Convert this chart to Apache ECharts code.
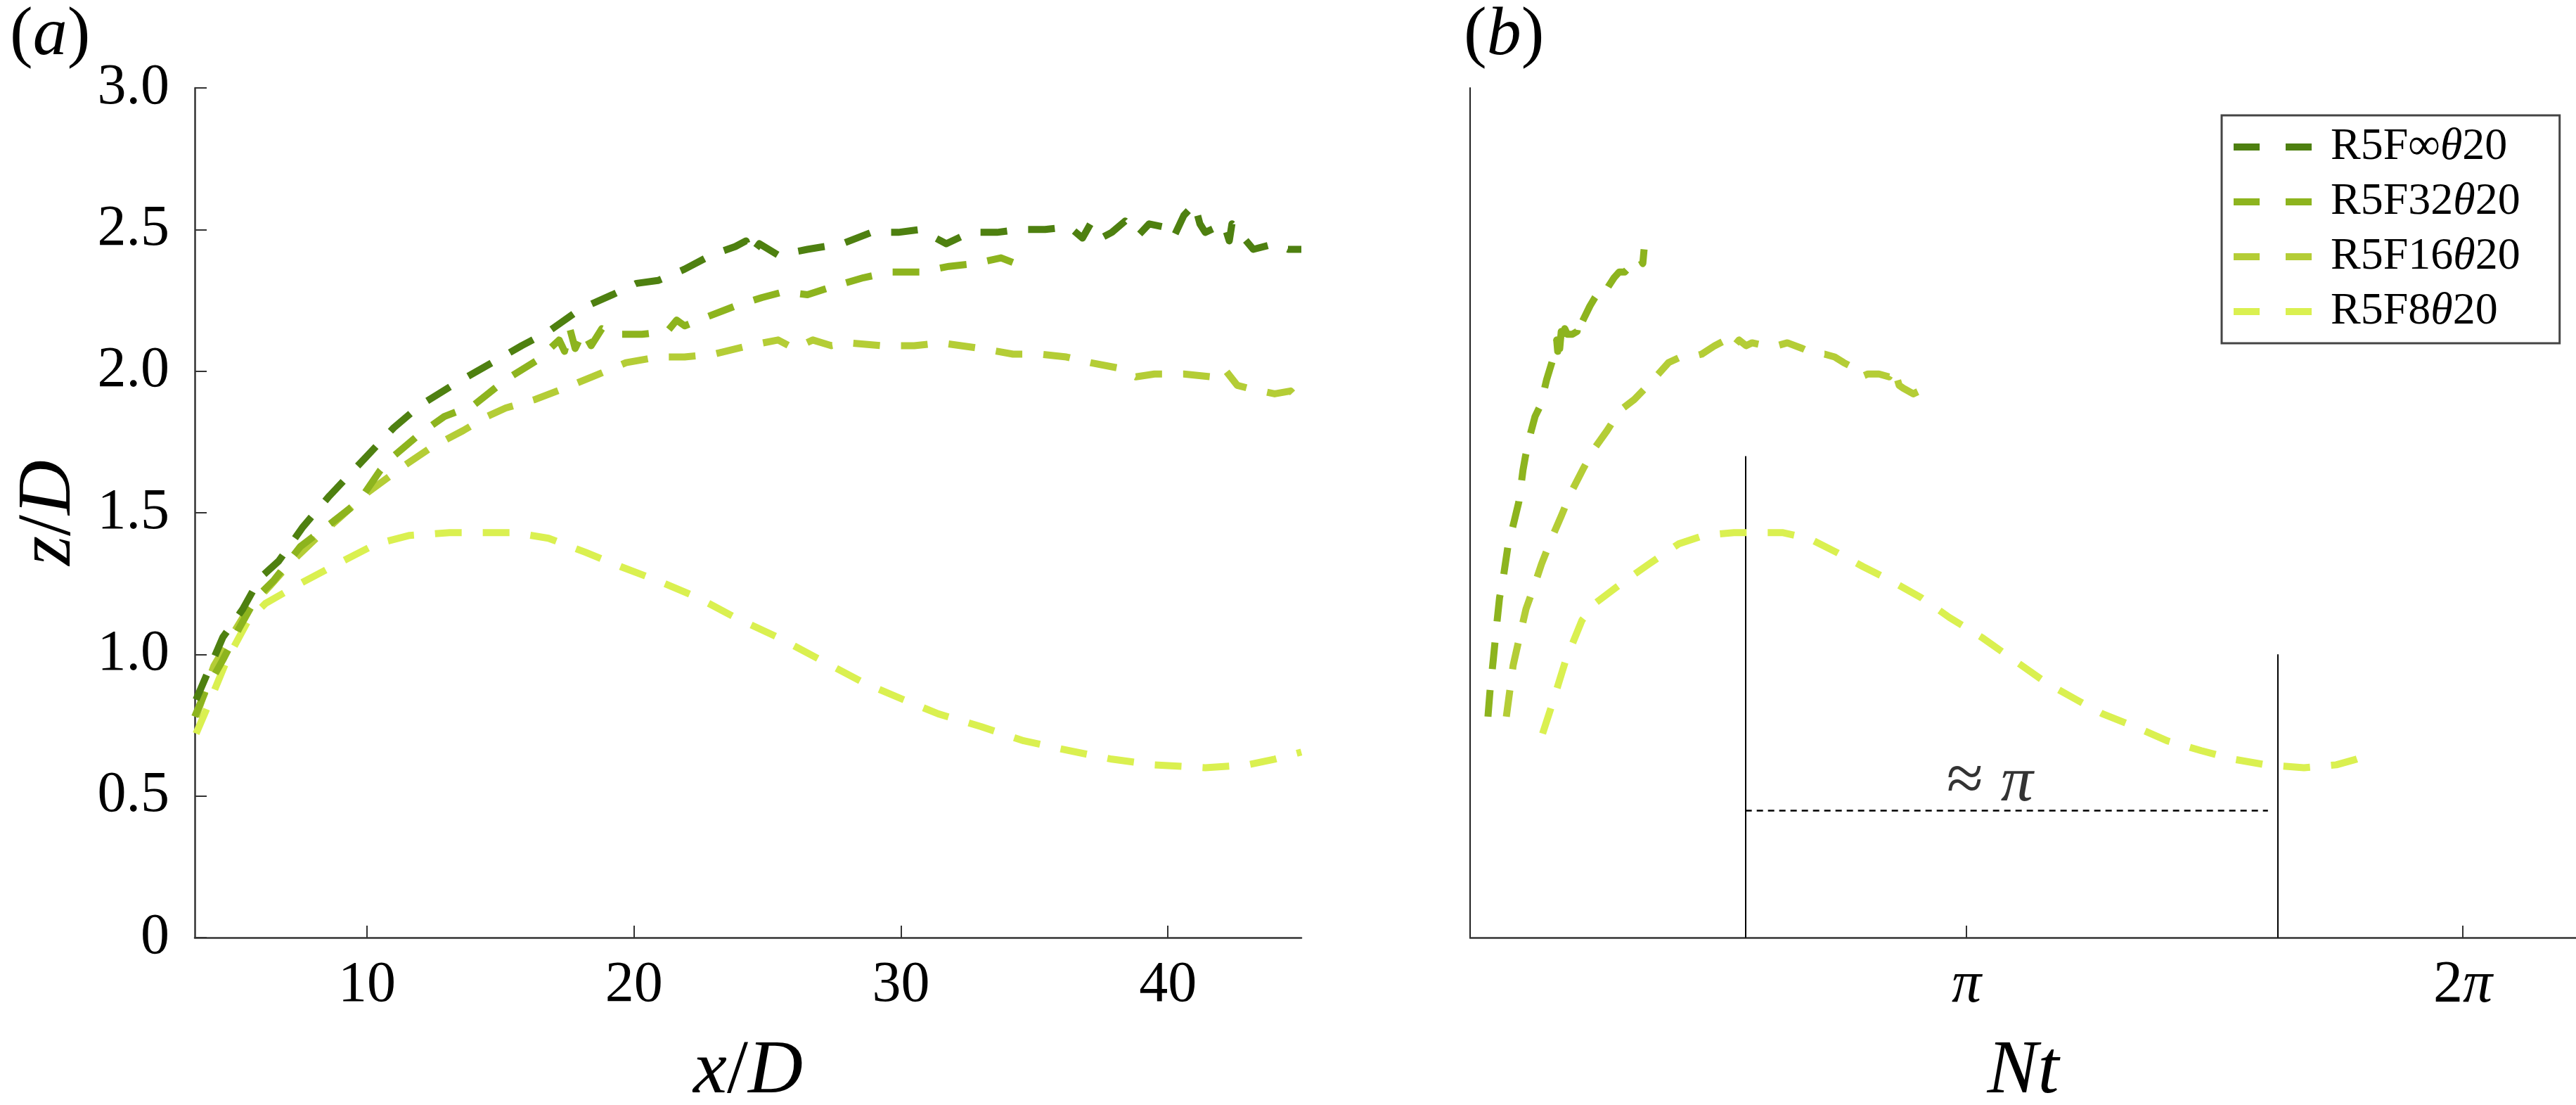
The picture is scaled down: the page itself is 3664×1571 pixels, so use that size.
<!DOCTYPE html>
<html>
<head>
<meta charset="utf-8">
<script src="https://cdn.jsdelivr.net/npm/echarts@6/dist/echarts.min.js"></script>
<style>
html,body{margin:0;padding:0;background:#fff;}
#chart{width:3664px;height:1571px;}
</style>
</head>
<body>
<div id="chart"></div>
<script>
// ---------- data ----------
const seriesNames = ['R5F∞θ20', 'R5F32θ20', 'R5F16θ20', 'R5F8θ20'];
const froudeNumbers = [Infinity, 32, 16, 8];
const seriesColors = ['#4e8010', '#8db41e', '#b4cd36', '#daf050'];

// panel (a): x/D and z/D
const xInf = [3.6,4.1,4.6,5.35,6.0,6.7,7.6,8.6,9.9,11.0,12.0,13.2,14.5,15.8,16.8,18.0,19.2,20.1,20.9,21.9,22.9,23.8,24.2,24.4,24.7,25.4,26.5,27.8,28.9,29.9,30.7,31.3,31.7,32.6,33.6,34.4,35.4,36.3,36.8,37.1,37.5,37.9,38.4,38.9,39.3,39.8,40.2,40.6,41.0,41.2,41.4,42.1,42.3,42.4,43.2,44.0,44.5,45.0];
const zInf = [0.84,0.95,1.06,1.16,1.27,1.33,1.45,1.56,1.69,1.80,1.88,1.95,2.02,2.09,2.14,2.22,2.27,2.31,2.32,2.36,2.41,2.44,2.46,2.41,2.45,2.41,2.43,2.45,2.49,2.49,2.50,2.47,2.45,2.49,2.49,2.50,2.50,2.51,2.47,2.52,2.47,2.49,2.53,2.48,2.52,2.51,2.47,2.55,2.59,2.52,2.49,2.52,2.46,2.52,2.43,2.45,2.43,2.43];

const x32 = [3.55,3.95,4.6,5.2,5.85,6.5,7.5,8.75,9.7,10.5,11.0,12.0,12.9,14.0,15.2,16.4,17.2,17.4,17.6,17.8,18.1,18.4,18.8,19.3,20.3,21.25,21.6,21.9,22.7,23.8,24.8,25.6,26.5,27.5,28.6,29.6,30.7,31.8,32.8,33.75,34.3,34.55];
const z32 = [0.78,0.87,0.98,1.09,1.20,1.26,1.38,1.47,1.54,1.65,1.70,1.78,1.84,1.88,1.97,2.04,2.11,2.07,2.15,2.08,2.14,2.09,2.15,2.13,2.13,2.14,2.18,2.16,2.19,2.23,2.26,2.28,2.27,2.30,2.33,2.35,2.35,2.37,2.38,2.40,2.38,2.43];

const x16 = [3.6,4.27,4.9,5.55,6.35,7.1,8.1,9.07,10.0,11.3,12.4,13.6,14.5,15.2,16.3,17.4,18.7,19.7,20.9,21.9,23.0,24.3,25.4,26.0,26.7,27.4,28.0,29.3,30.5,31.5,33.0,34.2,35.2,36.2,37.1,38.2,38.8,39.5,40.6,41.6,42.1,42.6,43.0,44.0,44.6,45.0];
const z16 = [0.78,0.96,1.06,1.16,1.24,1.32,1.41,1.49,1.57,1.66,1.73,1.79,1.84,1.87,1.90,1.94,1.99,2.03,2.05,2.05,2.06,2.09,2.11,2.08,2.11,2.09,2.10,2.09,2.09,2.10,2.08,2.06,2.06,2.05,2.03,2.01,1.98,1.99,1.99,1.98,2.01,1.95,1.94,1.92,1.93,1.89];

const x8 = [3.6,4.1,4.75,5.55,6.2,7.5,8.9,10.35,11.6,13.1,14.2,15.5,16.8,18.2,19.5,20.9,22.4,23.8,25.4,26.9,28.6,30.1,31.4,33.0,34.6,36.3,37.9,39.5,41.4,43.0,44.0,45.0];
const z8 = [0.72,0.83,0.98,1.12,1.18,1.25,1.32,1.39,1.42,1.43,1.43,1.43,1.41,1.36,1.31,1.26,1.20,1.13,1.06,0.985,0.90,0.84,0.79,0.745,0.695,0.66,0.63,0.61,0.60,0.61,0.63,0.655];

// panel (b): same measurements against Nt = NT_PER_XD * (x/D) / F
const NT_PER_XD = 1.02;

// axis tick labels
const xTicksA = [10, 20, 30, 40];
const xTicksB = [Math.PI, 2 * Math.PI];
const xTickLabelsB = ['{i|π}', '{r|2}{i|π}'];

// annotation in panel (b)
const peakNt = 1.743, peakLineTop = 1.70;
const troughNt = 5.11, troughLineTop = 1.00;
const periodLineZ = 0.45, periodLineEnd = 5.05;
const periodLabelNt = 3.29, periodLabelZ = 0.545;

// ---------- build ----------
const FONT = 'Liberation Serif';
const xs = [xInf, x32, x16, x8];
const zs = [zInf, z32, z16, z8];

function pairs(xa, za, f) {
  return xa.map((x, i) => [f ? f(x) : x, za[i]]);
}

const lineStyleFor = (c) => ({ color: c, width: 10, type: [38, 30], cap: 'butt', join: 'round' });

const series = [];
for (let k = 0; k < 4; k++) {
  series.push({
    name: seriesNames[k], type: 'line', xAxisIndex: 0, yAxisIndex: 0,
    data: pairs(xs[k], zs[k]), showSymbol: false, symbol: 'none',
    lineStyle: lineStyleFor(seriesColors[k]), itemStyle: { color: seriesColors[k] },
    silent: true, z: 10 - k
  });
}
for (let k = 1; k < 4; k++) {
  const F = froudeNumbers[k];
  series.push({
    name: seriesNames[k], type: 'line', xAxisIndex: 1, yAxisIndex: 1,
    data: pairs(xs[k], zs[k], (x) => NT_PER_XD * x / F), showSymbol: false, symbol: 'none',
    lineStyle: lineStyleFor(seriesColors[k]), itemStyle: { color: seriesColors[k] },
    silent: true, z: 10 - k
  });
}
// annotations
series.push({
  name: 'annot', type: 'scatter', xAxisIndex: 1, yAxisIndex: 1,
  data: [[periodLabelNt, periodLabelZ]], symbolSize: 0, silent: true,
  label: {
    show: true, position: 'inside', formatter: '{r|≈}{s| }{i|π}',
    rich: {
      r: { fontFamily: FONT, fontSize: 95, color: '#000' },
      s: { fontFamily: FONT, fontSize: 100, color: '#000' },
      i: { fontFamily: FONT, fontSize: 92, fontStyle: 'italic', color: '#000' }
    }
  },
  markLine: {
    silent: true, symbol: 'none', label: { show: false },
    lineStyle: { color: '#000', width: 2, type: 'solid' },
    data: [
      [{ coord: [peakNt, 0] }, { coord: [peakNt, peakLineTop] }],
      [{ coord: [troughNt, 0] }, { coord: [troughNt, troughLineTop] }],
      [{ coord: [peakNt, periodLineZ], lineStyle: { type: [9, 7], width: 2.5 } },
       { coord: [periodLineEnd, periodLineZ] }]
    ]
  }
});

const axisCommon = {
  axisLine: { show: true, onZero: false, lineStyle: { color: '#333', width: 2.5 } },
  splitLine: { show: false }
};

const option = {
  animation: false,
  backgroundColor: '#fff',
  grid: [
    { left: 277, top: 125, width: 1574, height: 1208, containLabel: false, outerBoundsMode: 'none' },
    { left: 2091, top: 125, width: 1573, height: 1208, containLabel: false, outerBoundsMode: 'none' }
  ],
  xAxis: [
    Object.assign({}, axisCommon, {
      type: 'value', gridIndex: 0, min: 3.55, max: 45,
      axisTick: { show: true, inside: true, length: 17, customValues: xTicksA, lineStyle: { color: '#333', width: 2 } },
      axisLabel: { customValues: xTicksA, fontFamily: FONT, fontSize: 82, color: '#000', margin: 27 },
      name: '{i|x}{r|/}{i|D}', nameLocation: 'middle', nameGap: 138,
      nameTextStyle: { rich: {
        i: { fontFamily: FONT, fontSize: 108, fontStyle: 'italic', color: '#000' },
        r: { fontFamily: FONT, fontSize: 108, color: '#000' } } }
    }),
    Object.assign({}, axisCommon, {
      type: 'value', gridIndex: 1, min: 0, max: 7,
      axisTick: { show: true, inside: true, length: 17, customValues: xTicksB, lineStyle: { color: '#333', width: 2 } },
      axisLabel: {
        customValues: xTicksB, margin: 27,
        formatter: (v) => xTickLabelsB[xTicksB.findIndex(t => Math.abs(t - v) < 1e-6)],
        rich: {
          i: { fontFamily: FONT, fontSize: 84, fontStyle: 'italic', color: '#000' },
          r: { fontFamily: FONT, fontSize: 84, color: '#000' }
        }
      },
      name: '{i|Nt}', nameLocation: 'middle', nameGap: 138,
      nameTextStyle: { rich: {
        i: { fontFamily: FONT, fontSize: 108, fontStyle: 'italic', color: '#000' } } }
    })
  ],
  yAxis: [
    Object.assign({}, axisCommon, {
      type: 'value', gridIndex: 0, min: 0, max: 3, interval: 0.5,
      axisTick: { show: true, inside: true, length: 17, lineStyle: { color: '#333', width: 2 } },
      axisLabel: { fontFamily: FONT, fontSize: 82, color: '#000', margin: 36,
        formatter: (v) => v === 0 ? '0' : v.toFixed(1) },
      name: '{i|z}{r|/}{i|D}', nameLocation: 'middle', nameGap: 152, nameRotate: 90,
      nameTextStyle: { rich: {
        i: { fontFamily: FONT, fontSize: 108, fontStyle: 'italic', color: '#000' },
        r: { fontFamily: FONT, fontSize: 108, color: '#000' } } }
    }),
    Object.assign({}, axisCommon, {
      type: 'value', gridIndex: 1, min: 0, max: 3,
      axisLine: { show: true, onZero: false, lineStyle: { color: '#222', width: 2 } },
      axisTick: { show: false }, axisLabel: { show: false }
    })
  ],
  legend: {
    data: seriesNames, orient: 'vertical', left: 3160, top: 164,
    padding: [13, 56, 13, 12], itemGap: 14, itemWidth: 111, itemHeight: 10,
    borderColor: '#444', borderWidth: 3, borderRadius: 0,
    lineStyle: { type: [37, 37], width: 10 },
    itemStyle: { opacity: 0, borderWidth: 0 },
    selectedMode: false,
    formatter: (name) => {
      const m = name.match(/^(R5F.+?)θ(20)$/);
      return '{r|' + m[1] + '}{i|θ}{r|' + m[2] + '}';
    },
    textStyle: {
      padding: [0, 0, 0, 22],
      rich: {
        r: { fontFamily: FONT, fontSize: 64, color: '#000', lineHeight: 62 },
        i: { fontFamily: FONT, fontSize: 64, fontStyle: 'italic', color: '#000', lineHeight: 62 }
      }
    }
  },
  graphic: [
    { type: 'text', left: 14, top: 2, style: { text: '{r|(}{i|a}{r|)}', rich: {
        r: { fontFamily: FONT, fontSize: 98, fill: '#000' },
        i: { fontFamily: FONT, fontSize: 98, fontStyle: 'italic', fill: '#000' } } } },
    { type: 'text', left: 2082, top: 2, style: { text: '{r|(}{i|b}{r|)}', rich: {
        r: { fontFamily: FONT, fontSize: 98, fill: '#000' },
        i: { fontFamily: FONT, fontSize: 98, fontStyle: 'italic', fill: '#000' } } } }
  ],
  series: series
};

const chart = echarts.init(document.getElementById('chart'), null, { renderer: 'canvas' });
chart.setOption(option);
</script>
</body>
</html>
